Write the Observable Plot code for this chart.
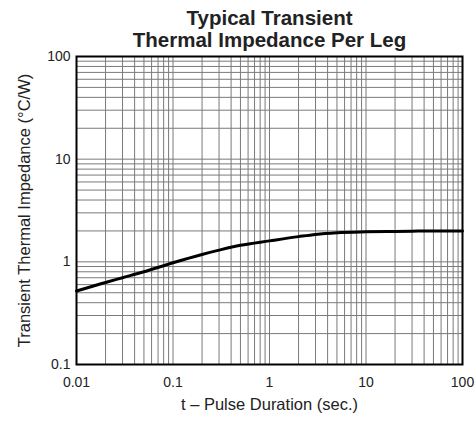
<!DOCTYPE html>
<html>
<head>
<meta charset="utf-8">
<script src="https://cdn.jsdelivr.net/npm/d3@7"></script>
<script src="https://cdn.jsdelivr.net/npm/@observablehq/plot@0.6"></script>
<style>
  html, body { margin: 0; padding: 0; background: #fff; }
  svg { display: block; }
</style>
</head>
<body>
<div id="chart"></div>
<script>
const titleLines = ["Typical Transient", "Thermal Impedance Per Leg"];
const xLabel = "t – Pulse Duration (sec.)";
const yLabel = "Transient Thermal Impedance (°C/W)";

const xTicks = [0.01, 0.1, 1, 10, 100];
const xTickLabels = ["0.01", "0.1", "1", "10", "100"];
const yTicks = [0.1, 1, 10, 100];
const yTickLabels = ["0.1", "1", "10", "100"];

const xGrid = [0.01,0.02,0.03,0.04,0.05,0.06,0.07,0.08,0.09,
  0.1,0.2,0.3,0.4,0.5,0.6,0.7,0.8,0.9,
  1,2,3,4,5,6,7,8,9,
  10,20,30,40,50,60,70,80,90,100];
const yGrid = [0.1,0.2,0.3,0.4,0.5,0.6,0.7,0.8,0.9,
  1,2,3,4,5,6,7,8,9,
  10,20,30,40,50,60,70,80,90,100];

// Curve
const pulseT = [0.01, 0.02, 0.03, 0.05, 0.1, 0.2, 0.3, 0.5, 1, 2, 3, 5, 10, 20, 30, 50, 100];
const impedance = [0.52, 0.63, 0.70, 0.80, 0.98, 1.18, 1.30, 1.45, 1.60, 1.76, 1.85, 1.92, 1.96, 1.98, 1.99, 2.0, 2.0];

const curve = pulseT.map((t, i) => ({t, z: impedance[i]}));
const xFmt = new Map(xTicks.map((v, i) => [v, xTickLabels[i]]));
const yFmt = new Map(yTicks.map((v, i) => [v, yTickLabels[i]]));

const font = "'Liberation Sans', Arial, sans-serif";

const chart = Plot.plot({
  width: 476,
  height: 421,
  marginLeft: 76,
  marginRight: 14,
  marginTop: 56,
  marginBottom: 57,
  style: {fontFamily: font, fontSize: "14px", color: "#222", background: "#fff"},
  x: {type: "log", domain: [0.01, 100], label: null},
  y: {type: "log", domain: [0.1, 100], label: null},
  marks: [
    Plot.ruleX(xGrid, {stroke: "#7a7a7a", strokeWidth: 1}),
    Plot.ruleY(yGrid, {stroke: "#7a7a7a", strokeWidth: 1}),
    Plot.line(curve, {x: "t", y: "z", stroke: "#000", strokeWidth: 3, curve: "monotone-x"}),
    Plot.frame({stroke: "#000", strokeWidth: 2}),
    Plot.axisX({ticks: xTicks, tickFormat: d => xFmt.get(d), tickSize: 0, tickPadding: 13, label: null, fontSize: 14}),
    Plot.axisY({ticks: yTicks, tickFormat: d => yFmt.get(d), tickSize: 0, tickPadding: 6, label: null, fontSize: 14}),
    Plot.text([titleLines[0]], {frameAnchor: "top", dy: -46, fontSize: 20.5, fontWeight: "bold", fill: "#222"}),
    Plot.text([titleLines[1]], {frameAnchor: "top", dy: -24, fontSize: 20.5, fontWeight: "bold", fill: "#222"}),
    Plot.text([xLabel], {frameAnchor: "bottom", dy: 45, fontSize: 16.5, fill: "#222"}),
    Plot.text([yLabel], {frameAnchor: "left", textAnchor: "middle", dx: -52, rotate: -90, fontSize: 16.5, fill: "#222"})
  ]
});
document.getElementById("chart").appendChild(chart);
</script>
</body>
</html>
